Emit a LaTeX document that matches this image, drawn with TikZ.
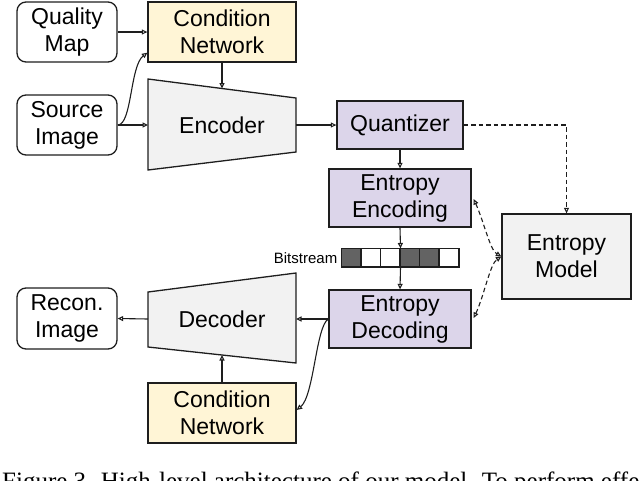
\documentclass[tikz,border=0pt]{standalone}
\usepackage{fontspec}
\setmainfont{Liberation Sans}
\newfontfamily\capfont{Liberation Serif}
\usetikzlibrary{arrows.meta,calc}
\definecolor{condc}{HTML}{FFF5D6}
\definecolor{quantc}{HTML}{DCD5EA}
\definecolor{lgray}{HTML}{F2F2F2}
\definecolor{bitdark}{HTML}{636363}
\definecolor{ln}{HTML}{1E1E1E}
\begin{document}
\begin{tikzpicture}[x=1pt,y=-1pt,
  lbl/.style={font=\fontsize{23}{27}\selectfont, align=center, inner sep=0pt},
  base/.style={lbl, draw=ln, line width=1.3pt},
  rbox/.style={base, rounded corners=9pt, fill=white, minimum width=100pt, minimum height=60pt},
  cbox/.style={base, fill=condc, minimum width=148pt, minimum height=60pt},
  pbox/.style={base, fill=quantc},
  trap/.style={draw=ln, line width=1.3pt, fill=lgray, line join=miter},
  arr/.style={draw=ln, line width=1.1pt, -{Triangle[open,length=5.5pt,width=5pt]}},
  darr/.style={arr, dash pattern=on 4.5pt off 3pt},
  ddarr/.style={draw=ln, line width=1.1pt, dash pattern=on 4.5pt off 3pt, {Triangle[open,length=5.5pt,width=5pt]}-{Triangle[open,length=5.5pt,width=5pt]}},
  cell/.style={draw=ln, line width=1.1pt}
]
\useasboundingbox (0,0) rectangle (640,480);
\clip (0,0) rectangle (640,480);

% top-left inputs
\node[rbox] (qmap) at (67,32) {Quality\\Map};
\node[cbox] (cond1) at (222,32) {Condition\\Network};
\node[rbox] (src) at (67,125) {Source\\Image};

% encoder trapezoid
\draw[trap] (148,79) -- (296,98) -- (296,152) -- (148,170) -- cycle;
\node[lbl] (enc) at (222,125) {Encoder};
\coordinate (encT) at (222,88.5);
\coordinate (encL) at (148,125);
\coordinate (encR) at (296,125);

% quantizer & entropy coding
\node[pbox, minimum width=126pt, minimum height=48pt] (quant) at (400,125) {Quantizer};
\node[pbox, minimum width=142pt, minimum height=58pt] (eenc) at (400,198) {Entropy\\Encoding};
\node[pbox, minimum width=142pt, minimum height=58pt] (edec) at (400,319) {Entropy\\Decoding};
\node[base, fill=lgray, minimum width=129pt, minimum height=85pt] (emodel) at (566.5,256.5) {Entropy\\Model};

% bitstream
\node[draw=ln, line width=1.1pt, minimum width=117pt, minimum height=18pt, inner sep=0pt] (bs) at (400.5,258) {};
\foreach \i/\c in {0/bitdark,1/white,2/white,3/bitdark,4/bitdark,5/white}{
  \filldraw[cell, fill=\c] ($(bs.north west)+(\i*19.5,0)$) rectangle ++(19.5,18);
}
\node[font=\fontsize{15}{18}\selectfont, anchor=east, inner sep=0pt] (bslbl) at ($(bs.west)+(-4,0)$) {Bitstream};

% decoder trapezoid
\draw[trap] (148,292) -- (296,273) -- (296,363) -- (148,347) -- cycle;
\node[lbl] (dec) at (222,319) {Decoder};
\coordinate (decL) at (148,319);
\coordinate (decR) at (296,319);
\coordinate (decB) at (222,355);

\node[rbox, minimum height=61pt] (recon) at (67,318.5) {Recon.\\Image};
\node[cbox] (cond2) at (222,413) {Condition\\Network};

% connectors
\coordinate (c1in) at ($(cond1.south west)+(0,-10)$);
\coordinate (c2in) at ($(cond2.east)+(0,-3)$);
\draw[arr] (qmap.east) -- (cond1.west);
\draw[arr] (src.east) -- (encL);
\draw[arr] (src.east) .. controls (132,125) and (130,66) .. (c1in);
\draw[arr] (cond1.south) -- (encT);
\draw[arr] (encR) -- (quant.west);
\draw[arr] (quant.south) -- (eenc.north);
\draw[arr] (eenc.south) -- (bs.north);
\draw[arr] (bs.south) -- (edec.north);
\draw[arr] (edec.west) -- (decR);
\draw[arr] (decL) -- (recon.east);
\draw[arr] (cond2.north) -- (decB);
\draw[arr] (edec.west) .. controls (316,326) and (314,396) .. (c2in);

\draw[darr] (quant.east) -| (emodel.north);
\draw[ddarr] ($(eenc.east)+(2,1)$) .. controls (484,222) and (490,250) .. (emodel.west);
\draw[ddarr] ($(edec.east)+(2,-1)$) .. controls (484,296) and (490,264) .. (emodel.west);

% caption (cut off at the picture edge, as in the reference)
\node[font=\capfont\fontsize{25}{29}\selectfont, anchor=base west, inner sep=0pt] (cap) at (2,489) {Figure 3. High-level architecture of our model. To perform effective};
\end{tikzpicture}
\end{document}
